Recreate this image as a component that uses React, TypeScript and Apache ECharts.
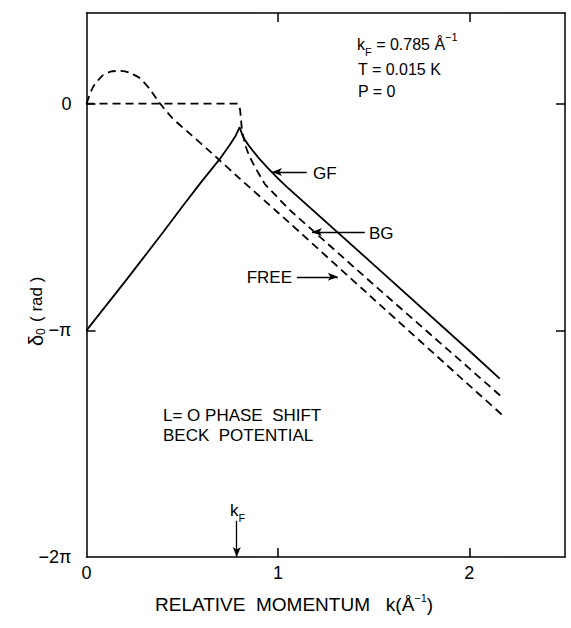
import React, { useEffect, useRef } from "react";
import * as echarts from "echarts";

// ---- data (phase shift in units of π, momentum in Å^-1) ----
const kGF = [0, 0.1, 0.2, 0.3, 0.4, 0.5, 0.6, 0.7, 0.75, 0.78, 0.8, 0.815, 0.83, 0.854, 0.9, 0.943, 1.0, 1.048, 1.5, 2.0, 2.159];
const dGF = [-1, -0.893, -0.786, -0.677, -0.567, -0.455, -0.345, -0.24, -0.18, -0.14, -0.104, -0.14, -0.163, -0.192, -0.24, -0.28, -0.33, -0.368, -0.71, -1.09, -1.213];

const kBG = [0, 0.2, 0.4, 0.6, 0.79, 0.797, 0.803, 0.807, 0.812, 0.828, 0.85, 0.88, 0.932, 1.0, 1.063, 1.5, 2.0, 2.17];
const dBG = [0, 0, 0, 0, 0, -0.005, -0.03, -0.07, -0.115, -0.18, -0.23, -0.28, -0.355, -0.415, -0.47, -0.798, -1.168, -1.294];

const kFREE = [0, 0.034, 0.086, 0.13, 0.175, 0.22, 0.28, 0.33, 0.38, 0.45, 0.55, 0.65, 0.8, 1.0, 1.5, 2.0, 2.17];
const dFREE = [0, 0.073, 0.126, 0.142, 0.145, 0.138, 0.112, 0.065, 0.005, -0.065, -0.14, -0.215, -0.33, -0.48, -0.862, -1.243, -1.372];

const xTickValues = [0, 1, 2];
const xTickLabels = ["0", "1", "2"];
const yTickValues = [-2, -1, 0];
const yTickLabels = ["−2π", "−π", "0"];

const kFermi = 0.785;

// arrow annotations [from, to] in data coordinates
const arrowGF = [[1.151, -0.302], [0.969, -0.302]];
const arrowBG = [[1.454, -0.566], [1.178, -0.566]];
const arrowFREE = [[1.099, -0.764], [1.313, -0.764]];
const arrowKF = [[kFermi, -1.84], [kFermi, -2.0]];

const FONT = '"Liberation Sans", Arial, sans-serif';

const zip = (a: number[], b: number[]) => a.map((v, i) => [v, b[i]]);

export default function App() {
  const ref = useRef<HTMLDivElement>(null);
  useEffect(() => {
    if (!ref.current) return;
    const chart = echarts.init(ref.current, undefined, { renderer: "svg" });
    const axisLine = { show: true, onZero: false, lineStyle: { color: "#000", width: 1.5 } };
    const tickStyle = { color: "#000", width: 1.5 };
    const lineBase = { color: "#000", width: 1.8 };
    const arrowLine = (pts: number[][]) => [
      { coord: pts[0], symbol: "none" },
      { coord: pts[1], symbol: "arrow", symbolSize: [6, 10] },
    ];
    const txt = (text: string, x: number, y: number, size: number, align = "left", rich?: any, lineHeight?: number) => ({
      type: "text",
      x,
      y,
      style: { text, fill: "#000", fontSize: size, fontFamily: FONT, align, verticalAlign: "middle", rich, lineHeight },
    });
    const richFor = (size: number) => ({
      sup: { fontSize: 11, fontFamily: FONT, fill: "#000", verticalAlign: "top", lineHeight: 10 },
      sub: { fontSize: 11, fontFamily: FONT, fill: "#000", verticalAlign: "bottom", lineHeight: 12 },
      n: { fontSize: size, fontFamily: FONT, fill: "#000" },
    });

    chart.setOption({
      animation: false,
      backgroundColor: "#fff",
      grid: { left: 86.5, top: 13, right: 6, bottom: 71, containLabel: false },
      xAxis: [
        {
          type: "value", min: 0, max: 2.5, interval: 1, position: "bottom",
          axisLine, splitLine: { show: false },
          axisTick: { show: true, inside: true, length: 9, customValues: [1, 2], lineStyle: tickStyle },
          axisLabel: {
            customValues: xTickValues, color: "#000", fontSize: 18, fontFamily: FONT, margin: 7,
            formatter: (v: number) => { const i = xTickValues.indexOf(v); return i >= 0 ? xTickLabels[i] : ""; },
          },
        },
        {
          type: "value", min: 0, max: 2.5, interval: 1, position: "top",
          axisLine, splitLine: { show: false },
          axisTick: { show: true, inside: true, length: 9, customValues: [1, 2], lineStyle: tickStyle },
          axisLabel: { show: false },
        },
      ],
      yAxis: [
        {
          type: "value", min: -2, max: 0.4, interval: 1, position: "left",
          axisLine, splitLine: { show: false },
          axisTick: { show: true, inside: true, length: 9, customValues: [-1, 0], lineStyle: tickStyle },
          axisLabel: {
            customValues: yTickValues, color: "#000", fontSize: 18, fontFamily: FONT, margin: 15,
            formatter: (v: number) => { const i = yTickValues.indexOf(v); return i >= 0 ? yTickLabels[i] : ""; },
          },
        },
        {
          type: "value", min: -2, max: 0.4, interval: 1, position: "right",
          axisLine, splitLine: { show: false },
          axisTick: { show: true, inside: true, length: 9, customValues: [-1, 0], lineStyle: tickStyle },
          axisLabel: { show: false },
        },
      ],
      series: [
        {
          name: "GF", type: "line", data: zip(kGF, dGF), showSymbol: false, symbol: "none",
          lineStyle: { ...lineBase, type: "solid" },
          markLine: {
            silent: true, animation: false, label: { show: false },
            lineStyle: { color: "#000", width: 1.3, type: "solid" },
            data: [arrowLine(arrowGF), arrowLine(arrowBG), arrowLine(arrowFREE), arrowLine(arrowKF)],
          },
        },
        {
          name: "BG", type: "line", data: zip(kBG, dBG), showSymbol: false, symbol: "none",
          lineStyle: { ...lineBase, type: [8, 5] },
        },
        {
          name: "FREE", type: "line", data: zip(kFREE, dFREE), showSymbol: false, symbol: "none", smooth: 0.2,
          lineStyle: { ...lineBase, type: [8, 5] },
        },
      ],
      graphic: [
        // top-right annotation
        txt("k{sub|F} = 0.785 Å{sup|−1}", 357, 44, 16, "left", richFor(16), 26),
        txt("T = 0.015 K", 358, 69, 16),
        txt("P = 0", 358, 91, 16),
        // curve labels
        txt("GF", 313, 173, 17),
        txt("BG", 369, 233, 17),
        txt("FREE", 292, 277, 17, "right"),
        txt("L= O PHASE  SHIFT", 163, 415, 17),
        txt("BECK  POTENTIAL", 163, 435, 17),
        // kF marker label
        txt("k{sub|F}", 230, 510, 17, "left", richFor(17), 26),
        // x axis name
        txt("RELATIVE  MOMENTUM   k(Å{sup|−1}{n|)}", 155, 604, 19, "left", richFor(19), 24),
        {
          type: "group", x: 36, y: 307, rotation: Math.PI / 2,
          children: [
            { type: "text", x: -39, y: 0, style: { text: "δ", fontSize: 20, fill: "#000", fontFamily: FONT, align: "left", verticalAlign: "middle" } },
            { type: "text", x: -28, y: 5, style: { text: "0", fontSize: 12, fill: "#000", fontFamily: FONT, align: "left", verticalAlign: "middle" } },
            { type: "text", x: -15, y: 0, style: { text: "( rad )", fontSize: 17, fill: "#000", fontFamily: FONT, align: "left", verticalAlign: "middle" } },
          ],
        },
      ],
    });
    return () => chart.dispose();
  }, []);
  return <div ref={ref} style={{ position: "fixed", left: 0, top: 0, width: 571, height: 628, background: "#fff" }} />;
}
